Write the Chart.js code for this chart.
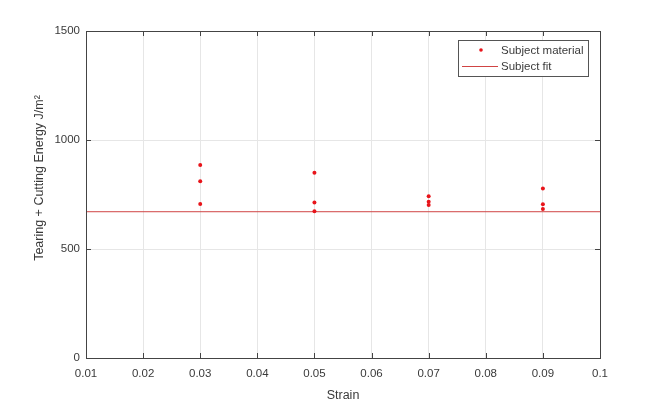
<!DOCTYPE html>
<html>
<head>
<meta charset="utf-8">
<script src="https://cdn.jsdelivr.net/npm/chart.js@4/dist/chart.umd.min.js"></script>
<style>
html,body{margin:0;padding:0;background:#fff;}
#wrap{width:663px;height:403px;position:relative;}
</style>
</head>
<body>
<div id="wrap"><canvas id="c" width="663" height="403"></canvas></div>
<script>
// Data
const strainValues = [0.03, 0.03, 0.03, 0.05, 0.05, 0.05, 0.07, 0.07, 0.07, 0.09, 0.09, 0.09];
const energyValues = [885, 811, 706, 850, 713, 673, 742, 717, 702, 777, 705, 683];
const fitStrain = [0.01, 0.1];
const fitEnergy = [671, 671];
const xTicks = [0.01, 0.02, 0.03, 0.04, 0.05, 0.06, 0.07, 0.08, 0.09, 0.1];
const yTicks = [0, 500, 1000, 1500];
const seriesLabels = ['Subject material', 'Subject fit'];
const xTitle = 'Strain';
const yTitle = 'Tearing + Cutting Energy J/m\u00B2';

const axisColor = '#444444';
const textColor = '#3a3a3a';
const FONT = '"Liberation Sans", Arial, sans-serif';

const boxPlugin = {
  id: 'boxPlugin',
  afterDatasetsDraw(chart) {
    const {ctx, chartArea: a, scales} = chart;
    ctx.save();
    ctx.strokeStyle = axisColor;
    ctx.lineWidth = 1;
    // box
    ctx.strokeRect(Math.round(a.left) + 0.5, Math.round(a.top) + 0.5,
      Math.round(a.right - a.left), Math.round(a.bottom - a.top));
    // inner ticks
    const tl = 5;
    xTicks.forEach(v => {
      const x = Math.round(scales.x.getPixelForValue(v)) + 0.5;
      ctx.beginPath();
      ctx.moveTo(x, a.bottom); ctx.lineTo(x, a.bottom - tl);
      ctx.moveTo(x, a.top); ctx.lineTo(x, a.top + tl);
      ctx.stroke();
    });
    yTicks.forEach(v => {
      const y = Math.round(scales.y.getPixelForValue(v)) + 0.5;
      ctx.beginPath();
      ctx.moveTo(a.left, y); ctx.lineTo(a.left + tl, y);
      ctx.moveTo(a.right, y); ctx.lineTo(a.right - tl, y);
      ctx.stroke();
    });
    // y-axis title
    ctx.save();
    ctx.translate(40, 178);
    ctx.rotate(-Math.PI / 2);
    ctx.font = '12.5px ' + FONT;
    ctx.fillStyle = textColor;
    ctx.textAlign = 'center';
    ctx.textBaseline = 'middle';
    ctx.fillText(yTitle, 0, 0);
    ctx.restore();
    // legend box
    const lw = 130, lh = 36;
    const lx = a.right - 12 - lw, ly = a.top + 9;
    ctx.fillStyle = '#ffffff';
    ctx.fillRect(lx, ly, lw, lh);
    ctx.strokeStyle = '#555555';
    ctx.strokeRect(Math.round(lx) + 0.5, Math.round(ly) + 0.5, lw, lh);
    const ds = chart.data.datasets;
    ctx.font = '11.5px ' + FONT;
    ctx.textBaseline = 'middle';
    ctx.textAlign = 'left';
    // entry 1: marker
    const r1 = ly + 10, r2 = ly + 26;
    ctx.beginPath();
    ctx.fillStyle = ds[0].pointBackgroundColor;
    ctx.arc(lx + 23, r1, 1.8, 0, Math.PI * 2);
    ctx.fill();
    ctx.fillStyle = textColor;
    ctx.fillText(ds[0].label, lx + 43, r1 + 0.5);
    // entry 2: line
    ctx.beginPath();
    ctx.strokeStyle = ds[1].borderColor;
    ctx.moveTo(lx + 4, r2 + 0.5); ctx.lineTo(lx + 40, r2 + 0.5);
    ctx.stroke();
    ctx.fillText(ds[1].label, lx + 43, r2 + 0.5);
    ctx.restore();
  }
};

new Chart(document.getElementById('c'), {
  type: 'scatter',
  data: {
    datasets: [
      {
        label: seriesLabels[0],
        data: strainValues.map((x, i) => ({x, y: energyValues[i]})),
        pointBackgroundColor: '#e8141a',
        pointBorderColor: '#e8141a',
        pointRadius: 2,
        pointBorderWidth: 0,
        showLine: false,
        order: 1
      },
      {
        label: seriesLabels[1],
        data: fitStrain.map((x, i) => ({x, y: fitEnergy[i]})),
        borderColor: '#d04444',
        borderWidth: 1,
        pointRadius: 0,
        showLine: true,
        order: 2
      }
    ]
  },
  options: {
    responsive: false,
    animation: false,
    layout: {padding: {top: 31, right: 63, left: 0, bottom: 0}},
    plugins: {legend: {display: false}, tooltip: {enabled: false}},
    scales: {
      x: {
        type: 'linear', min: 0.01, max: 0.1,
        afterBuildTicks(s) { s.ticks = xTicks.map(v => ({value: v})); },
        afterFit(s) { s.height = 45; },
        border: {display: false},
        grid: {color: '#e6e6e6', drawTicks: false, lineWidth: 1},
        ticks: {
          color: textColor, padding: 9, maxRotation: 0,
          font: {family: FONT, size: 11.5},
          callback: v => String(Math.round(v * 100) / 100)
        },
        title: {display: true, text: xTitle, color: textColor, padding: {top: 0, bottom: 0},
          font: {family: FONT, size: 12.5}}
      },
      y: {
        type: 'linear', min: 0, max: 1500,
        afterBuildTicks(s) { s.ticks = yTicks.map(v => ({value: v})); },
        afterFit(s) { s.width = 86; },
        border: {display: false},
        grid: {color: '#e6e6e6', drawTicks: false, lineWidth: 1},
        ticks: {color: textColor, padding: 6, font: {family: FONT, size: 11.5},
          callback: v => String(v)},
        title: {display: false}
      }
    }
  },
  plugins: [boxPlugin]
});
</script>
</body>
</html>
